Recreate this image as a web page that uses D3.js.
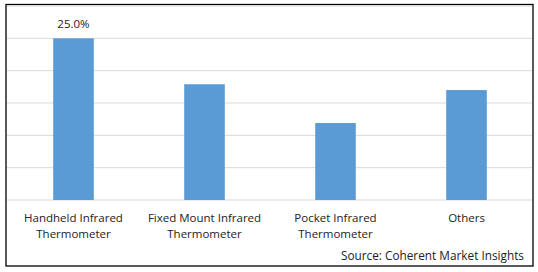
<!DOCTYPE html>
<html>
<head>
<meta charset="utf-8">
<script src="https://cdn.jsdelivr.net/npm/d3@7"></script>
<style>
  body { margin: 0; background: #fff; }
  text { font-family: "Open Sans", sans-serif; fill: #222; }
</style>
</head>
<body>
<svg id="chart" width="538" height="272"></svg>
<script>
// categories, each label split in two lines
const categories = ["Handheld Infrared Thermometer", "Fixed Mount Infrared Thermometer", "Pocket Infrared Thermometer", "Others"];
const labelLines = [["Handheld Infrared", "Thermometer"], ["Fixed Mount Infrared", "Thermometer"], ["Pocket Infrared", "Thermometer"], ["Others"]];
const shares = [25.0, 17.9, 11.9, 17.0];
const gridTicks = [0, 5, 10, 15, 20, 25, 30];
const labelled = ["Handheld Infrared Thermometer"];

const svg = d3.select("#chart");
const W = 538, H = 272;

// frame
svg.append("rect")
	.attr("x", 6).attr("y", 4.5)
	.attr("width", 527).attr("height", 261.5)
	.attr("fill", "none")
	.attr("stroke", "#000")
	.attr("stroke-width", 1.3);

let x = d3.scaleBand()
	.domain(categories)
	.range([8, 532])
	.paddingInner(0.69)
	.paddingOuter(0.345);

let y = d3.scaleLinear()
	.domain([0, 30])
	.range([200, 6]);

// gridlines
svg.append("g")
	.selectAll("line")
	.data(gridTicks)
	.join("line")
	.attr("x1", 7).attr("x2", 532)
	.attr("y1", d => y(d)).attr("y2", d => y(d))
	.attr("stroke", "#d9d9d9")
	.attr("stroke-width", 1);

// bars
svg.append("g")
	.selectAll("rect")
	.data(categories)
	.join("rect")
	.attr("x", d => x(d))
	.attr("y", (d, i) => y(shares[i]))
	.attr("width", x.bandwidth())
	.attr("height", (d, i) => y(0) - y(shares[i]))
	.attr("fill", "#5b9bd5");

// data label
svg.append("g")
	.selectAll("text")
	.data(labelled)
	.join("text")
	.attr("x", d => x(d) + x.bandwidth() / 2)
	.attr("y", d => y(shares[categories.indexOf(d)]) - 10)
	.attr("text-anchor", "middle")
	.style("font-size", "11.5px")
	.text(d => shares[categories.indexOf(d)].toFixed(1) + "%");

// category labels
let lbl = svg.append("g")
	.selectAll("text")
	.data(categories)
	.join("text")
	.attr("text-anchor", "middle")
	.attr("y", 222)
	.style("font-size", "11.5px");
lbl.each(function (d, i) {
	let t = d3.select(this);
	labelLines[i].forEach((line, k) => {
		t.append("tspan")
			.attr("x", x(d) + x.bandwidth() / 2)
			.attr("dy", k == 0 ? 0 : 16)
			.text(line);
	});
});

svg.append("text")
	.attr("x", 524).attr("y", 259.5)
	.attr("text-anchor", "end")
	.style("font-size", "11.8px")
	.text("Source: Coherent Market Insights");
</script>
</body>
</html>
